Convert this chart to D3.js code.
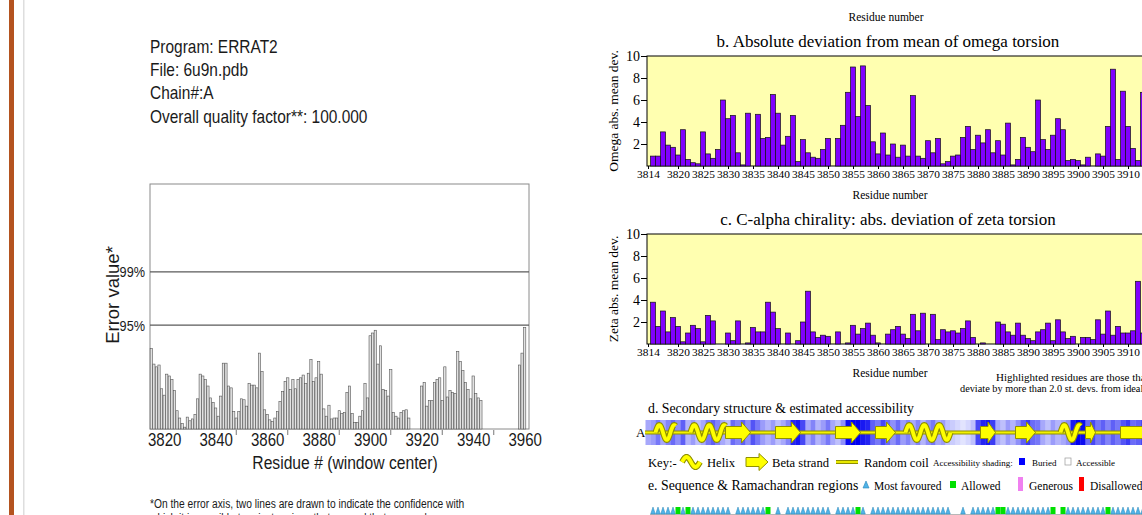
<!DOCTYPE html>
<html>
<head>
<meta charset="utf-8">
<script src="https://cdn.jsdelivr.net/npm/d3@7"></script>
<style>
  body { margin: 0; background: #fff; }
  svg { display: block; }
</style>
</head>
<body>
<svg id="page"></svg>
<script>
const W = 1142, H = 515;

// ---------- ERRAT2 data ----------
const infoLines = ["Program: ERRAT2", "File: 6u9n.pdb", "Chain#:A", "Overall quality factor**: 100.000"];
const errFirstResidue = 3815;
const errValues = [
  8.8, 7.1, 6.8, 7.0, 4.4, 3.7, 6.0, 5.8, 5.4, 4.2,
  2.0, 1.2, 0.6, 0.2, 1.3, 0.9, 1.1, 1.6, 3.3, 6.0,
  5.8, 5.4, 4.7, 3.4, 2.9, 2.3, 1.4, 3.6, 7.2, 7.2,
  4.7, 4.5, 1.9, 1.2, 1.9, 3.3, 3.2, 2.5, 5.0, 4.8,
  4.8, 4.5, 8.3, 6.3, 2.1, 1.6, 1.0, 0.8, 1.2, 1.9,
  3.0, 4.1, 5.2, 5.6, 4.3, 5.4, 4.4, 5.4, 5.6, 5.9,
  5.0, 6.1, 7.6, 5.2, 5.6, 7.4, 6.0, 2.2, 1.4, 2.6,
  1.1, 1.2, 1.2, 2.0, 1.7, 1.8, 4.0, 4.7, 1.7, 0.7,
  0.7, 1.4, 2.0, 5.0, 3.4, 10.2, 10.5, 10.8, 7.1, 9.1,
  4.3, 4.2, 3.6, 6.5, 1.8, 1.4, 1.2, 1.8, 2.0, 2.1,
  1.2, null, null, null, null, 4.7, 5.1, 2.5, 3.1, 3.1,
  5.1, 5.4, 5.6, 3.1, 6.8, 3.5, 4.2, 4.0, 3.9, 8.5,
  7.4, 6.4, 5.1, 4.3, 3.3, 5.8, 3.9, 3.4, 3.1, null,
  null, null, null, null, null, null, null, null, null, null,
  null, null, null, 7.0, 8.3, 11.1
];
const errTicks = [3820, 3840, 3860, 3880, 3900, 3920, 3940, 3960];
const errMinorTicks = [3848, 3868, 3888, 3908, 3928, 3948];
const confLines = [{ label: "99%", value: 17.19 }, { label: "95%", value: 11.36 }];
const footnote = [
  "*On the error axis, two lines are drawn to indicate the confidence with",
  "which it is possible to reject regions that exceed that error value."
];

// ---------- PROCHECK data ----------
const resTicks = [3814, 3820, 3825, 3830, 3835, 3840, 3845, 3850, 3855, 3860, 3865,
  3870, 3875, 3880, 3885, 3890, 3895, 3900, 3905, 3910];
const devTicks = [2, 4, 6, 8, 10];
const omegaFirst = 3815;
const omegaDev = [
  0.9, 0.9, 3.1, 1.9, 1.7, 1.0, 3.3, 0.6, 0.3, 0.2,
  3.1, 1.1, 0.7, 1.5, 6.0, 4.3, 4.6, 1.2, 0.1, 4.8,
  0.0, 4.7, 2.5, 2.6, 6.5, 4.8, 1.9, 2.7, 4.6, 0.4,
  2.4, 1.2, 0.8, 0.7, 1.5, 2.5, 0.0, 2.5, 3.7, 6.7,
  9.0, 4.5, 9.1, 5.5, 2.2, 1.1, 3.0, 1.0, 2.0, 0.8,
  1.9, 0.9, 6.4, 0.9, 0.7, 2.3, 1.2, 2.5, 0.2, 0.4,
  0.9, 1.0, 2.6, 3.6, 1.5, 2.8, 2.1, 3.3, 1.2, 2.3,
  1.0, 3.9, 0.1, 0.6, 2.6, 1.7, 1.3, 6.0, 2.4, 1.5,
  2.8, 4.3, 3.3, 0.5, 0.6, 0.5, 0.1, 0.8, 0.0, 1.1,
  0.9, 3.6, 8.8, 0.6, 6.8, 3.6, 1.6, 0.5, 6.7
];
const zetaFirst = 3815;
const zetaDev = [
  3.8, 1.6, 3.0, 1.1, 2.4, 1.6, 0.2, 1.0, 1.7, 1.4,
  0.2, 2.6, 2.1, 0.0, 0.0, 1.0, 0.3, 2.1, 0.0, 0.1,
  1.5, 1.1, 1.1, 3.8, 2.9, 1.4, 0.0, 1.0, 0.0, 0.3,
  2.0, 4.8, 1.1, 0.6, 0.8, 0.7, 0.0, 1.1, 0.0, 0.1,
  1.7, 0.9, 1.4, 1.9, 0.8, 0.1, 0.0, 0.9, 1.3, 1.6,
  0.9, 0.5, 2.7, 1.2, 2.8, 0.0, 2.7, 0.4, 1.3, 1.1,
  1.2, 1.0, 1.4, 2.1, 0.6, 0.0, 0.1, 0.0, 0.0, 2.0,
  1.8, 1.1, 0.8, 1.9, 0.8, 0.5, 0.3, 1.1, 1.3, 1.9,
  0.3, 2.2, 1.1, 0.5, 0.7, 0.0, 0.6, 0.6, 0.4, 2.2,
  0.9, 3.0, 0.8, 1.6, 1.0, 1.0, 1.2, 5.7, 1.0, 0.3
];
const accessFirst = 3814;
const accessibility = [
  0.3, 0.35, 0.5, 0.3, 0.45, 0.55, 0.4, 0.6, 0.25, 0.35,
  0.2, 0.3, 0.5, 0.6, 0.45, 0.3, 0.2, 0.55, 0.45, 0.6,
  0.4, 0.65, 0.5, 0.35, 0.25, 0.35, 0.2, 0.3, 0.45, 0.85,
  0.9, 0.7, 0.3, 0.45, 0.25, 0.35, 0.5, 0.3, 0.2, 0.4,
  0.95, 1.0, 1.0, 0.9, 0.85, 0.6, 0.5, 0.7, 0.55, 0.4,
  0.55, 0.35, 0.45, 0.3, 0.45, 0.25, 0.4, 0.5, 0.3, 0.35,
  0.2, 0.15, 0.1, 0.05, 0.1, 0.2, 0.7, 0.85, 0.9, 0.75,
  0.3, 0.2, 0.35, 0.25, 0.4, 0.6, 0.75, 0.55, 0.5, 0.3,
  0.2, 0.35, 0.25, 0.3, 0.4, 0.9, 1.0, 0.95, 0.55, 0.7,
  0.5, 0.6, 0.45, 0.6, 0.5, 0.65, 0.75, 0.55, 0.6, 0.7,
  0.5, 0.6
];
const ssElements = [
  { type: "helix", from: 3816, to: 3819 },
  { type: "helix", from: 3823, to: 3829 },
  { type: "strand", from: 3830, to: 3834 },
  { type: "strand", from: 3840, to: 3844 },
  { type: "strand", from: 3852, to: 3856 },
  { type: "strand", from: 3860, to: 3863 },
  { type: "helix", from: 3866, to: 3874 },
  { type: "strand", from: 3881, to: 3883 },
  { type: "strand", from: 3888, to: 3891 },
  { type: "helix", from: 3897, to: 3900 },
  { type: "strand", from: 3902, to: 3903 },
  { type: "strand", from: 3909, to: 3915 }
];
// a = most favoured, b = allowed, . = not plotted
const ramaFirst = 3815;
const ramaRegions = "aaaaababaaaaaaaa.aaaaaab.a.aaaaaaaaa.aaaaba.aaaaaaaaaaaaaaaa..a.aaaaabbaaaaaaaaab.baaaaaaaabaaaaaaaaa";

const SANS = "'Liberation Sans', Arial, Helvetica, sans-serif";
const SERIF = "'Liberation Serif', 'Times New Roman', Times, serif";

const svg = d3.select("#page").attr("width", W).attr("height", H)
  .attr("viewBox", `0 0 ${W} ${H}`);

// squeeze Helvetica-like text a bit, the original is rendered narrow
function sans(g, x, y, str, size, opts = {}) {
  const rot = opts.rotate ? ` rotate(${opts.rotate})` : "";
  return g.append("text")
    .attr("transform", `translate(${x},${y})${rot} scale(${opts.sx || 0.86},1)`)
    .attr("font-family", SANS)
    .attr("font-size", size)
    .attr("text-anchor", opts.anchor || "start")
    .attr("fill", "#1a1a1a")
    .text(str);
}

function serif(g, x, y, str, size, opts = {}) {
  const t = g.append("text")
    .attr("x", x).attr("y", y)
    .attr("font-family", SERIF)
    .attr("font-size", size)
    .attr("text-anchor", opts.anchor || "start")
    .attr("fill", "#000")
    .text(str);
  if (opts.rotate) t.attr("transform", `rotate(${opts.rotate},${x},${y})`);
  return t;
}

// page decoration on the left
svg.append("rect").attr("x", 9).attr("y", 0).attr("width", 5).attr("height", H).attr("fill", "#b4531f");
svg.append("rect").attr("x", 23).attr("y", 0).attr("width", 1.5).attr("height", H).attr("fill", "#dedede");

// ---------- ERRAT2 chart ----------
const errG = svg.append("g");
infoLines.forEach((s, i) => sans(errG, 150, 53 + i * 23.2, s, 18));

const box = { left: 150, right: 529, top: 184, bottom: 429 };
const step = 2.575;
const errX = d3.scaleLinear()
  .domain([errFirstResidue, errFirstResidue + 1])
  .range([box.left + step / 2, box.left + step * 1.5]);
const errY = d3.scaleLinear().domain([0, 26.8]).range([box.bottom, box.top]);

const errData = errValues.map((v, i) => ({ res: errFirstResidue + i, v }))
  .filter(d => d.v != null);

errG.append("rect")
  .attr("x", box.left).attr("y", box.top)
  .attr("width", box.right - box.left).attr("height", box.bottom - box.top)
  .attr("fill", "#fff").attr("stroke", "#8a8a8a").attr("stroke-width", 1);

errG.selectAll("line.conf")
  .data(confLines)
  .join("line")
  .attr("class", "conf")
  .attr("x1", box.left).attr("x2", box.right)
  .attr("y1", d => errY(d.value)).attr("y2", d => errY(d.value))
  .attr("stroke", "#5a5a5a").attr("stroke-width", 1.1);

errG.selectAll("rect.err")
  .data(errData)
  .join("rect")
  .attr("class", "err")
  .attr("x", d => errX(d.res) - step / 2 + 0.15)
  .attr("width", step - 0.3)
  .attr("y", d => errY(d.v))
  .attr("height", d => errY(0) - errY(d.v))
  .attr("fill", "#e2e2e2")
  .attr("stroke", "#555")
  .attr("stroke-width", 0.6);

const errXAxis = errG.append("g")
  .attr("transform", `translate(0,${box.bottom})`)
  .call(d3.axisBottom(errX).tickValues(errTicks).tickSize(0).tickPadding(5).tickFormat(d3.format("d")));
errXAxis.select(".domain").remove();
errXAxis.selectAll("text")
  .attr("font-family", SANS).attr("font-size", 17.5).attr("fill", "#1a1a1a")
  .attr("transform", "scale(0.86,1)");

errG.selectAll("line.minor")
  .data(errMinorTicks)
  .join("line")
  .attr("class", "minor")
  .attr("x1", d => errX(d)).attr("x2", d => errX(d))
  .attr("y1", box.bottom + 1).attr("y2", box.bottom + 6)
  .attr("stroke", "#777").attr("stroke-width", 1);

confLines.forEach(d => sans(errG, 145, errY(d.value) + 5.5, d.label, 15.5, { anchor: "end", sx: 0.82 }));
sans(errG, 119, 295, "Error value*", 18.5, { anchor: "middle", rotate: -90, sx: 1 });
sans(errG, 345, 469, "Residue # (window center)", 18, { anchor: "middle", sx: 0.87 });
footnote.forEach((s, i) => sans(errG, 150, 508 + i * 14, s, 12.5, { sx: 0.82 }));

// ---------- PROCHECK panels ----------
const plotL = 647;
const resX = d3.scaleLinear().domain([3814, 3914]).range([648, 1148]);
const bw = 5;

serif(svg, 886, 21, "Residue number", 11.5, { anchor: "middle" });

function devPanel(top, title, ylabel, first, values) {
  const g = svg.append("g");
  const ph = 110;
  const y = d3.scaleLinear().domain([0, 10]).range([top + ph, top]);
  const data = values.map((v, i) => ({ res: first + i, v })).filter(d => d.v > 0);

  g.append("rect")
    .attr("x", plotL).attr("y", top).attr("width", W - plotL + 20).attr("height", ph)
    .attr("fill", "#ffffb0").attr("stroke", "#000").attr("stroke-width", 1);

  g.selectAll("rect.bar")
    .data(data)
    .join("rect")
    .attr("class", "bar")
    .attr("x", d => resX(d.res) - bw / 2)
    .attr("width", bw)
    .attr("y", d => y(d.v))
    .attr("height", d => y(0) - y(d.v))
    .attr("fill", "#8000ff")
    .attr("stroke", "#111")
    .attr("stroke-width", 0.7);

  const ya = g.append("g")
    .attr("transform", `translate(${plotL},0)`)
    .call(d3.axisLeft(y).tickValues(devTicks).tickSize(6).tickSizeOuter(0).tickPadding(1));
  ya.selectAll("text").attr("font-family", SERIF).attr("font-size", 14).attr("fill", "#000");
  ya.select(".domain").remove();

  const xa = g.append("g")
    .attr("transform", `translate(0,${top + ph})`)
    .call(d3.axisBottom(resX).tickValues(resTicks).tickSize(3).tickSizeOuter(0).tickPadding(1).tickFormat(d3.format("d")));
  xa.selectAll("text").attr("font-family", SERIF).attr("font-size", 11.4).attr("fill", "#000");
  xa.select(".domain").remove();

  serif(g, 888, top - 9, title, 17, { anchor: "middle" });
  serif(g, 618, top + ph / 2, ylabel, 13.5, { anchor: "middle", rotate: -90 });
  serif(g, 890, top + 143, "Residue number", 11.5, { anchor: "middle" });
}

devPanel(56, "b. Absolute deviation from mean of omega torsion", "Omega abs. mean dev.", omegaFirst, omegaDev);
devPanel(234, "c. C-alpha chirality: abs. deviation of zeta torsion", "Zeta abs. mean dev.", zetaFirst, zetaDev);

serif(svg, 996, 381, "Highlighted residues are those that", 11);
serif(svg, 960, 392, "deviate by more than 2.0 st. devs. from ideal", 10.3);

// ---------- d. secondary structure ----------
const dG = svg.append("g");
serif(dG, 648, 413, "d. Secondary structure & estimated accessibility", 13.8);
serif(dG, 636, 437, "A", 13);

const band = { top: 420, h: 25 };
const cy = band.top + band.h / 2;
const shade = d3.scaleLinear().domain([0, 1]).range(["#eef0ff", "#0000f0"]);

dG.selectAll("rect.acc")
  .data(accessibility.map((v, i) => ({ res: accessFirst + i, v })))
  .join("rect")
  .attr("class", "acc")
  .attr("x", d => resX(d.res) - bw / 2)
  .attr("width", bw + 0.3)
  .attr("y", band.top).attr("height", band.h)
  .attr("fill", d => shade(d.v));

const coilLine = (g, x1, x2, y) => {
  g.append("line").attr("x1", x1).attr("x2", x2).attr("y1", y).attr("y2", y)
    .attr("stroke", "#8f8f00").attr("stroke-width", 4);
  g.append("line").attr("x1", x1).attr("x2", x2).attr("y1", y).attr("y2", y)
    .attr("stroke", "#f2f200").attr("stroke-width", 1.8);
};

const helixPath = (xa, xb, y, amp, period) => {
  const pts = d3.range(xa, xb + 0.01, 0.5).map(x => [x, y - amp * Math.sin(2 * Math.PI * (x - xa) / period)]);
  return d3.line()(pts);
};

const drawHelix = (g, xa, xb, y, amp, period) => {
  const d = helixPath(xa, xb, y, amp, period);
  g.append("path").attr("d", d).attr("fill", "none").attr("stroke", "#8f8f00").attr("stroke-width", 6).attr("stroke-linejoin", "round");
  g.append("path").attr("d", d).attr("fill", "none").attr("stroke", "#ffff00").attr("stroke-width", 3.8).attr("stroke-linejoin", "round");
};

const drawArrow = (g, xa, xb, y, body, head) => {
  const hl = Math.min(9, (xb - xa) * 0.5);
  const pts = [[xa, y - body], [xb - hl, y - body], [xb - hl, y - head], [xb, y],
    [xb - hl, y + head], [xb - hl, y + body], [xa, y + body]];
  g.append("polygon").attr("points", pts.map(p => p.join(",")).join(" "))
    .attr("fill", "#ffff00").attr("stroke", "#909000").attr("stroke-width", 1);
};

coilLine(dG, 645, W, cy);
ssElements.forEach(e => {
  const xa = resX(e.from) - bw / 2, xb = resX(e.to) + bw / 2;
  if (e.type === "helix") drawHelix(dG, xa, xb, cy, 7.5, 15);
  else drawArrow(dG, xa, xb, cy, 6, 10.5);
});

// key row
const keyY = 467;
const keySize = 12.6;
serif(dG, 648, keyY, "Key:-", keySize);
drawHelix(dG, 682, 700, keyY - 5, 5, 18);
serif(dG, 707, keyY, "Helix", keySize);
drawArrow(dG, 746, 768, keyY - 5, 4.5, 8.5);
serif(dG, 772, keyY, "Beta strand", keySize);
coilLine(dG, 836, 858, keyY - 5);
serif(dG, 864, keyY, "Random coil", keySize);
serif(dG, 933, keyY - 1, "Accessibility shading:", 9);
dG.append("rect").attr("x", 1019).attr("y", keyY - 9).attr("width", 6).attr("height", 7).attr("fill", "#0000ff");
serif(dG, 1032, keyY - 1, "Buried", 9);
dG.append("rect").attr("x", 1065).attr("y", keyY - 9).attr("width", 6).attr("height", 7).attr("fill", "#fff").attr("stroke", "#999").attr("stroke-width", 0.7);
serif(dG, 1076, keyY - 1, "Accessible", 9);

// ---------- e. sequence & Ramachandran regions ----------
const eG = svg.append("g");
const eY = 490;
const legSize = 11.5;
serif(eG, 648, eY, "e. Sequence & Ramachandran regions", 13.8);
const tri = (x, base, w, h) => `M${x - w / 2},${base}L${x},${base - h}L${x + w / 2},${base}Z`;
eG.append("path").attr("d", tri(866, eY - 2, 6, 7)).attr("fill", "#4fb3e8").attr("stroke", "#2a86b8").attr("stroke-width", 0.6);
serif(eG, 874, eY, "Most favoured", legSize);
eG.append("rect").attr("x", 950).attr("y", eY - 9).attr("width", 6).attr("height", 7).attr("fill", "#00e000");
serif(eG, 961, eY, "Allowed", legSize);
eG.append("rect").attr("x", 1018).attr("y", eY - 13).attr("width", 5).attr("height", 14).attr("fill", "#f080f0");
serif(eG, 1029, eY, "Generous", legSize);
eG.append("rect").attr("x", 1079).attr("y", eY - 13).attr("width", 5).attr("height", 14).attr("fill", "#ff0000");
serif(eG, 1090, eY, "Disallowed", legSize);

const rama = ramaRegions.split("").map((c, i) => ({ res: ramaFirst + i, c })).filter(d => d.c !== ".");
const triBase = 514;
eG.append("line").attr("x1", 650).attr("x2", W).attr("y1", triBase + 0.5).attr("y2", triBase + 0.5)
  .attr("stroke", "#b8b8b8").attr("stroke-width", 1);
eG.selectAll("path.fav")
  .data(rama.filter(d => d.c === "a"))
  .join("path")
  .attr("class", "fav")
  .attr("d", d => tri(resX(d.res), triBase, 4.6, 7))
  .attr("fill", "#4fb3e8").attr("stroke", "#2a86b8").attr("stroke-width", 0.5);
eG.selectAll("rect.alw")
  .data(rama.filter(d => d.c === "b"))
  .join("rect")
  .attr("class", "alw")
  .attr("x", d => resX(d.res) - 2.5).attr("width", 5)
  .attr("y", triBase - 7).attr("height", 7)
  .attr("fill", "#00e000");
</script>
</body>
</html>
